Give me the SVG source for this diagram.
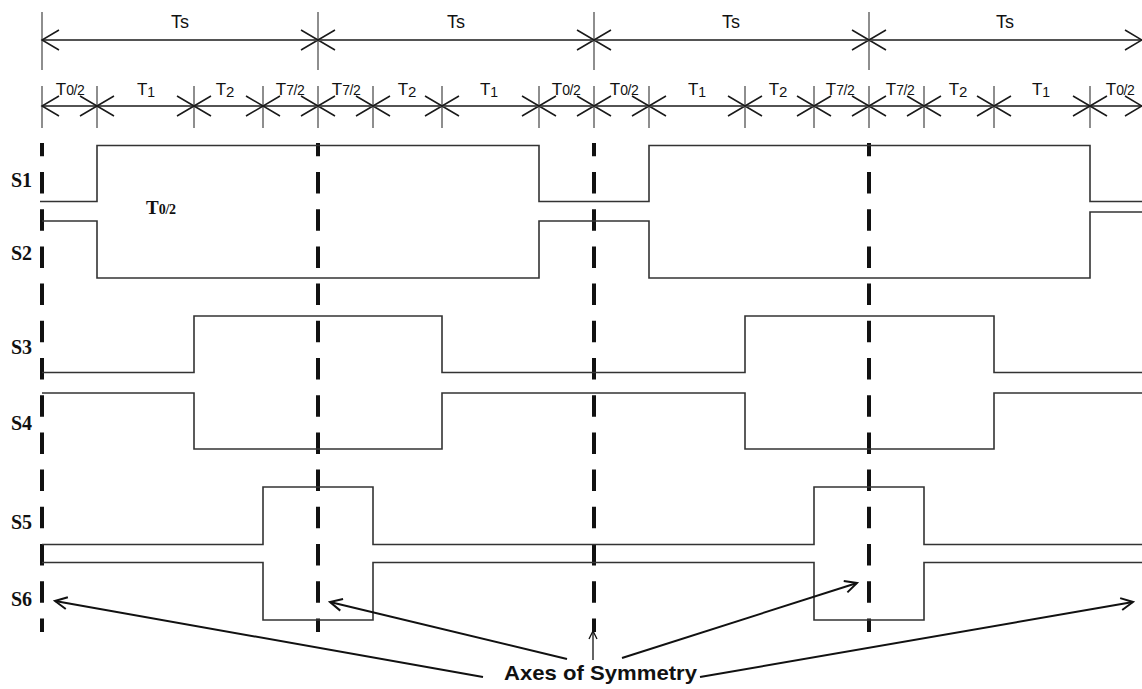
<svg xmlns="http://www.w3.org/2000/svg" width="1142" height="689" viewBox="0 0 1142 689">
<style>
.dim{stroke:#1a1a1a;stroke-width:1.5;fill:none}
.tick{stroke:#444;stroke-width:1.2;fill:none}
.chev{stroke:#1a1a1a;stroke-width:1.5;fill:none}
.wave{stroke:#333;stroke-width:1.6;fill:none}
.axis{stroke:#111;stroke-width:4;stroke-dasharray:21.5 15.7;stroke-dashoffset:8.2;fill:none}
.lbl{font-family:"Liberation Sans",Arial,sans-serif;fill:#111}
.ts{font-size:18px}
.sl{font-family:"Liberation Serif","Times New Roman",serif;font-weight:bold;font-size:20px;fill:#111}
.arr{stroke:#111;stroke-width:2;fill:none}
.bigtxt{font-family:"Liberation Sans",Arial,sans-serif;font-weight:bold;font-size:21px;fill:#111}
</style>
<defs>
<marker id="ah" viewBox="-14 -8 16 16" markerWidth="16" markerHeight="16" refX="0" refY="0" orient="auto" markerUnits="userSpaceOnUse">
<path d="M-12,-6 L0,0 L-12,6" stroke="#111" stroke-width="2" fill="none"/>
</marker>
<marker id="ahs" viewBox="-10 -6 12 12" markerWidth="12" markerHeight="12" refX="0" refY="0" orient="auto" markerUnits="userSpaceOnUse">
<path d="M-8,-4 L0,0 L-8,4" stroke="#111" stroke-width="1.3" fill="none"/>
</marker>
</defs>
<rect width="1142" height="689" fill="#fff"/>

<g id="dimensions">
<line class="dim" x1="42" y1="40" x2="1142" y2="40"/>
<line class="dim" x1="42" y1="106" x2="1142" y2="106"/>
<path class="tick" d="M42,12V70M318,12V70M594,12V70M869,12V70"/>
<path class="tick" d="M42,86V128M97,86V128M194,86V128M263,86V128M318,86V128M373,86V128M442,86V128M539,86V128M594,86V128M649,86V128M745,86V128M814,86V128M869,86V128M924,86V128M994,86V128M1090,86V128"/>
<path class="chev" d="M59,30L42,40L59,50M1125,30L1142,40L1125,50
M301,30L335,50M301,50L335,30M577,30L611,50M577,50L611,30M852,30L886,50M852,50L886,30"/>
<path class="chev" d="M59,96L42,106L59,116M1125,96L1142,106L1125,116
M80,96L114,116M80,116L114,96
M177,96L211,116M177,116L211,96
M246,96L280,116M246,116L280,96
M301,96L335,116M301,116L335,96
M356,96L390,116M356,116L390,96
M425,96L459,116M425,116L459,96
M522,96L556,116M522,116L556,96
M577,96L611,116M577,116L611,96
M632,96L666,116M632,116L666,96
M728,96L762,116M728,116L762,96
M797,96L831,116M797,116L831,96
M852,96L886,116M852,116L886,96
M907,96L941,116M907,116L941,96
M977,96L1011,116M977,116L1011,96
M1073,96L1107,116M1073,116L1107,96"/>
</g>

<g id="period-labels" class="lbl ts" text-anchor="middle">
<text x="180" y="28">Ts</text>
<text x="456" y="28">Ts</text>
<text x="731" y="28">Ts</text>
<text x="1005" y="28">Ts</text>
</g>

<g id="interval-labels" class="lbl" text-anchor="middle">
<text x="70" y="95"><tspan font-size="17">T</tspan><tspan font-size="14" letter-spacing="-0.5">0/2</tspan></text>
<text x="146" y="95"><tspan font-size="17">T</tspan><tspan font-size="14" dy="2">1</tspan></text>
<text x="225" y="95"><tspan font-size="17">T</tspan><tspan font-size="15" dy="2">2</tspan></text>
<text x="290" y="95"><tspan font-size="17">T</tspan><tspan font-size="14" letter-spacing="-0.5">7/2</tspan></text>
<text x="346" y="95"><tspan font-size="17">T</tspan><tspan font-size="14" letter-spacing="-0.5">7/2</tspan></text>
<text x="407" y="95"><tspan font-size="17">T</tspan><tspan font-size="15" dy="2">2</tspan></text>
<text x="489" y="95"><tspan font-size="17">T</tspan><tspan font-size="14" dy="2">1</tspan></text>
<text x="566" y="95"><tspan font-size="17">T</tspan><tspan font-size="14" letter-spacing="-0.5">0/2</tspan></text>
<text x="624" y="95"><tspan font-size="17">T</tspan><tspan font-size="14" letter-spacing="-0.5">0/2</tspan></text>
<text x="697" y="95"><tspan font-size="17">T</tspan><tspan font-size="14" dy="2">1</tspan></text>
<text x="778" y="95"><tspan font-size="17">T</tspan><tspan font-size="15" dy="2">2</tspan></text>
<text x="840" y="95"><tspan font-size="17">T</tspan><tspan font-size="14" letter-spacing="-0.5">7/2</tspan></text>
<text x="900" y="95"><tspan font-size="17">T</tspan><tspan font-size="14" letter-spacing="-0.5">7/2</tspan></text>
<text x="958" y="95"><tspan font-size="17">T</tspan><tspan font-size="15" dy="2">2</tspan></text>
<text x="1041" y="95"><tspan font-size="17">T</tspan><tspan font-size="14" dy="2">1</tspan></text>
<text x="1120" y="95"><tspan font-size="17">T</tspan><tspan font-size="14" letter-spacing="-0.5">0/2</tspan></text>
</g>

<g id="axes">
<line class="axis" x1="42" y1="143" x2="42" y2="632"/>
<line class="axis" x1="318" y1="143" x2="318" y2="632"/>
<line class="axis" x1="594" y1="143" x2="594" y2="632"/>
<line class="axis" x1="869" y1="143" x2="869" y2="632"/>
</g>

<g id="S1">
<text class="sl" x="11" y="187">S1</text>
<path class="wave" d="M40,201.5H97V145.5H539V201.5H649V145.5H1090V201.5H1142"/>
</g>
<g id="S2">
<text class="sl" x="11" y="260">S2</text>
<path class="wave" d="M42,221H97V278H539V221H649V278H1090V212H1142"/>
</g>
<g id="S3">
<text class="sl" x="11" y="354">S3</text>
<path class="wave" d="M42,372.5H194V316H442V372.5H745V316H994V372.5H1142"/>
</g>
<g id="S4">
<text class="sl" x="11" y="430">S4</text>
<path class="wave" d="M42,393H194V449H442V393H745V449H994V393H1142"/>
</g>
<g id="S5">
<text class="sl" x="11" y="529">S5</text>
<path class="wave" d="M42,544.5H263V487H373V544.5H814V487H924V544.5H1142"/>
</g>
<g id="S6">
<text class="sl" x="11" y="606">S6</text>
<path class="wave" d="M42,562.5H263V620H373V562.5H814V620H924V562.5H1142"/>
</g>

<g id="note">
<text x="146" y="214" font-family="'Liberation Serif','Times New Roman',serif" font-weight="bold" fill="#111"><tspan font-size="19">T</tspan><tspan font-size="14" letter-spacing="-0.3">0/2</tspan></text>
</g>

<g id="label-axes">
<text class="bigtxt" x="504" y="680" textLength="193" lengthAdjust="spacingAndGlyphs">Axes of Symmetry</text>
</g>

<g id="connectors">
<path class="arr" d="M483,677L55,601" marker-end="url(#ah)"/>
<path class="arr" d="M567,659L330,602" marker-end="url(#ah)"/>
<path class="arr" d="M622,658L857,583" marker-end="url(#ah)"/>
<path class="arr" d="M700,677L1133,602" marker-end="url(#ah)"/>
<path d="M593,660L593,631" stroke="#111" stroke-width="1.3" fill="none" marker-end="url(#ahs)"/>
</g>
</svg>
